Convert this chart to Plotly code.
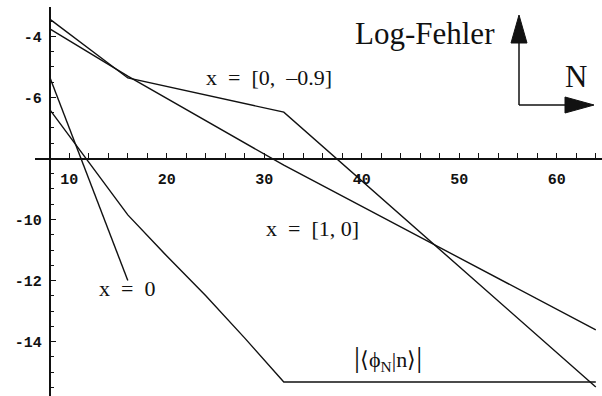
import plotly.graph_objects as go

# Log error vs. N for the different expansions
N_x09 = [8, 16, 32, 48, 64]
err_x09 = [-3.43, -5.36, -6.48, -11.0, -15.49]

N_x10 = [8, 16, 32, 48, 64]
err_x10 = [-3.75, -5.30, -8.22, -10.91, -13.62]

N_x0 = [8, 12, 16]
err_x0 = [-5.34, -8.66, -12.0]

N_phi = [8, 12, 16, 20, 24, 28, 32, 64]
err_phi = [-6.40, -8.13, -9.85, -11.2, -12.5, -13.89, -15.33, -15.33]

x_ticks = [10, 20, 30, 40, 50, 60]
y_ticks = [-4, -6, -10, -12, -14]

W, H = 602, 396
INK = "#111111"


def px(x):
    return x / W


def py(y):
    return 1 - y / H


fig = go.Figure()
for xs, ys in [(N_x09, err_x09), (N_x10, err_x10), (N_x0, err_x0), (N_phi, err_phi)]:
    fig.add_trace(go.Scatter(x=xs, y=ys, mode="lines",
                             line=dict(color=INK, width=1.4),
                             hoverinfo="skip"))

tick_font = dict(family="Liberation Mono", size=15, color=INK, weight="bold")
label_font = dict(family="Liberation Serif", size=22, color=INK)

fig.update_layout(
    width=W, height=H,
    margin=dict(l=0, r=0, t=0, b=0),
    paper_bgcolor="white", plot_bgcolor="white",
    showlegend=False,
    xaxis=dict(
        domain=[px(35), 1], range=[6.482, 64.636],
        anchor="free", position=py(158.5),
        showgrid=False, zeroline=False,
        showline=True, linecolor=INK, linewidth=2,
        tickvals=x_ticks, ticktext=[str(v) for v in x_ticks],
        ticks="inside", ticklen=5, tickwidth=1, tickcolor=INK,
        ticklabelstandoff=6,
        tickfont=tick_font,
        minor=dict(dtick=2, tick0=0, ticks="inside", ticklen=5,
                   tickwidth=1, tickcolor=INK, showgrid=False),
    ),
    yaxis=dict(
        domain=[0, py(7)], range=[-15.787, -3.033],
        anchor="free", position=px(49.8),
        showgrid=False, zeroline=False,
        showline=True, linecolor=INK, linewidth=2,
        tickvals=y_ticks, ticktext=[str(v) for v in y_ticks],
        ticks="inside", ticklen=5, tickwidth=1, tickcolor=INK,
        ticklabelstandoff=4,
        tickfont=tick_font,
        minor=dict(dtick=0.5, tick0=0, ticks="inside", ticklen=3,
                   tickwidth=1, tickcolor=INK, showgrid=False),
    ),
)

nb = "\u00a0"
fig.add_annotation(x=30.48, y=-5.33, xref="x", yref="y",
                   xanchor="center", yanchor="middle",
                   text=f"x{nb}{nb}={nb}{nb}[0,{nb}{nb}\u20130.9]",
                   showarrow=False, font=label_font)
fig.add_annotation(x=34.9, y=-10.28, xref="x", yref="y",
                   xanchor="center", yanchor="middle",
                   text=f"x{nb}{nb}={nb}{nb}[1,{nb}0]",
                   showarrow=False, font=label_font)
fig.add_annotation(x=15.95, y=-12.25, xref="x", yref="y",
                   xanchor="center", yanchor="middle",
                   text=f"x{nb}{nb}={nb}{nb}0",
                   showarrow=False, font=label_font)
fig.add_annotation(x=42.7, y=-14.54, xref="x", yref="y",
                   xanchor="center", yanchor="middle",
                   text=("<span style='font-size:30px'>|</span>"
                         "\u27e8\u03d5<sub>N</sub>|n\u27e9"
                         "<span style='font-size:30px'>|</span>"),
                   showarrow=False, font=label_font)

# axis legend: "Log-Fehler" with the two arrows and "N"
fig.add_annotation(x=px(353), y=py(33), xref="paper", yref="paper",
                   xanchor="left", yanchor="middle",
                   text="Log-Fehler", showarrow=False,
                   font=dict(family="Liberation Serif", size=31, color=INK))
fig.add_annotation(x=px(576), y=py(77), xref="paper", yref="paper",
                   xanchor="center", yanchor="middle",
                   text="N", showarrow=False,
                   font=dict(family="Liberation Serif", size=31, color=INK))

fig.add_shape(type="line", xref="paper", yref="paper",
              x0=px(519), y0=py(105), x1=px(519), y1=py(42),
              line=dict(color=INK, width=1.5))
fig.add_shape(type="line", xref="paper", yref="paper",
              x0=px(519), y0=py(105), x1=px(567), y1=py(105),
              line=dict(color=INK, width=1.5))
fig.add_shape(type="path", xref="paper", yref="paper",
              path=(f"M {px(519)},{py(15)} L {px(511)},{py(43)} "
                    f"L {px(527)},{py(43)} Z"),
              fillcolor=INK, line=dict(color=INK, width=1))
fig.add_shape(type="path", xref="paper", yref="paper",
              path=(f"M {px(594)},{py(105)} L {px(565)},{py(97)} "
                    f"L {px(565)},{py(113)} Z"),
              fillcolor=INK, line=dict(color=INK, width=1))

fig.write_html("out.html")
